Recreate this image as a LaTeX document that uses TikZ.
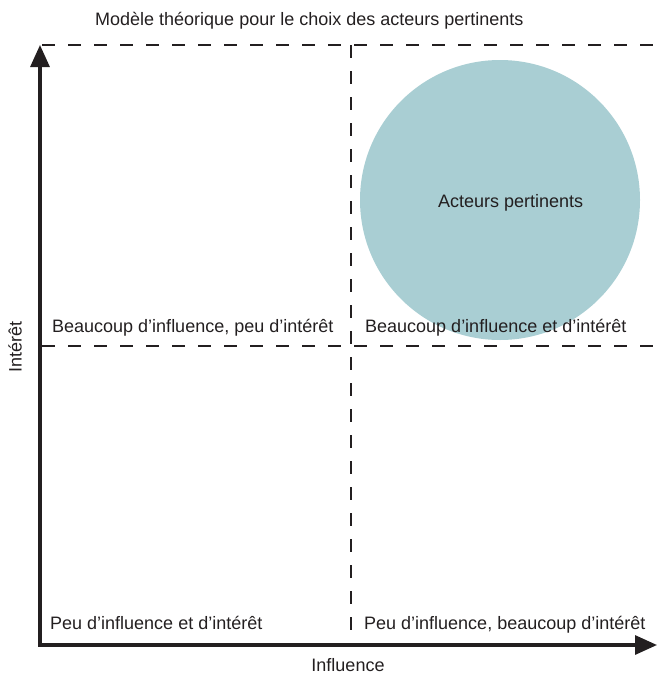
\documentclass[tikz,border=0pt]{standalone}
\usepackage{fontspec}
\setmainfont{Liberation Sans}
\usetikzlibrary{arrows.meta,positioning}
\definecolor{pertcol}{RGB}{169,206,211}
\definecolor{inkcol}{RGB}{35,31,32}

\begin{document}
\begin{tikzpicture}[x=1pt,y=-1pt,
    txt/.style={anchor=base west,inner sep=0pt,text=inkcol,font=\fontsize{18}{20}\selectfont},
    grille/.style={draw=inkcol,line width=2.6pt,dash pattern=on 12.5pt off 13.5pt},
    axe/.style={draw=inkcol,line width=3.2pt,line join=miter,{Triangle[length=22pt,width=19pt]}-{Triangle[length=22pt,width=19pt]}}]
    \useasboundingbox (0,0) rectangle (658,675);

    \coordinate (o) at (40,645);
    \coordinate (ytop) at (40,45);
    \coordinate (xend) at (657,645);

    % zone des acteurs pertinents
    \node[circle,fill=pertcol,minimum size=280pt,inner sep=0pt] (pert) at (500,200) {};
    \node[txt] (pertlbl) at (438,207) {Acteurs pertinents};

    % grille
    \coordinate (h1a) at (42,45);   \coordinate (h1b) at (658,45);
    \coordinate (h2a) at (42,346);  \coordinate (h2b) at (658,346);
    \coordinate (v1a) at (351,45);  \coordinate (v1b) at (351,645);
    \draw[grille] (h1a) -- (h1b);
    \draw[grille] (h2a) -- (h2b);
    \draw[grille] (v1a) -- (v1b);

    % axes
    \draw[axe] (ytop) -- (o) -- (xend);

    \node[txt] (titre) at (95,25) {Modèle théorique pour le choix des acteurs pertinents};
    \node[txt] (q1) at (52,332) {Beaucoup d’influence, peu d’intérêt};
    \node[txt] (q2) at (365,332) {Beaucoup d’influence et d’intérêt};
    \node[txt] (q3) at (50,629) {Peu d’influence et d’intérêt};
    \node[txt] (q4) at (364,629) {Peu d’influence, beaucoup d’intérêt};
    \node[txt,anchor=center] (xlbl) at (348,665) {Influence};
    \node[txt,anchor=center,rotate=90] (ylbl) at (15,347) {Intérêt};
\end{tikzpicture}
\end{document}
